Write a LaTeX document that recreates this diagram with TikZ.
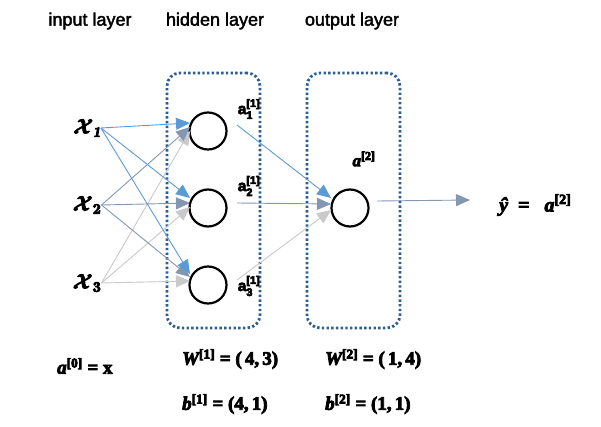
\documentclass[tikz,border=0pt]{standalone}
\usepackage{amsmath,bm}
\usepackage{fontspec}
\newfontfamily\sansf{Liberation Sans}
\newfontfamily\fser{Liberation Serif}
\usetikzlibrary{arrows.meta}
\definecolor{cblue}{HTML}{5B9BD5}
\definecolor{cgb}{HTML}{8497B0}
\definecolor{cgray}{HTML}{C9C9C9}
\definecolor{cbox}{HTML}{2E5D8F}
\newcommand{\heavy}[2]{\special{pdf:literal direct 2 Tr #1 w}#2\special{pdf:literal direct 0 Tr}}
\newcommand{\sq}[1]{\textsuperscript{#1}}
\begin{document}
\begin{tikzpicture}[x=1pt,y=-1pt,
 neuron/.style={circle,draw=black,line width=2.2pt,minimum size=37pt,inner sep=0pt},
 layerbox/.style={draw=cbox,line width=2.8pt,dash pattern=on 2.4pt off 2.3pt,rounded corners=13pt,inner sep=0pt},
 conn/.style={line width=0.9pt,-{Triangle[length=14pt,width=12pt]}},
 title/.style={font=\sansf\fontsize{18}{21}\selectfont},
 formula/.style={font=\fser\bfseries\fontsize{19}{22}\selectfont,inner sep=0pt},
 xlab/.style={font=\fontsize{20}{22}\selectfont,inner sep=0pt},
 alab/.style={font=\sansf\bfseries\fontsize{15.5}{18}\selectfont,inner sep=0pt},
]
\useasboundingbox (0,0) rectangle (601,427);
% titles
\node[title] (tin) at (90,21) {\heavy{0.4}{input layer}};
\node[title] (thid) at (215,21) {\heavy{0.4}{hidden layer}};
\node[title] (tout) at (352,21) {\heavy{0.4}{output layer}};
% layer boxes
\node[layerbox,minimum width=93pt,minimum height=255pt] (hbox) at (213.5,200.5) {};
\node[layerbox,minimum width=93pt,minimum height=255pt] (obox) at (353.5,200.5) {};
% neurons
\node[neuron] (h1) at (208,131) {};
\node[neuron] (h2) at (208,208) {};
\node[neuron] (h3) at (208,285) {};
\node[neuron] (o) at (350,208) {};
% inputs
\node[xlab] (x1) at (87,128) {\heavy{0.9}{$\bm{\mathcal{X}}_{\bm{\mathit 1}}$}};
\node[xlab] (x2) at (87,205) {\heavy{0.9}{$\bm{\mathcal{X}}_{\bm 2}$}};
\node[xlab] (x3) at (87,283) {\heavy{0.9}{$\bm{\mathcal{X}}_{\bm 3}$}};
% arrow end points
\coordinate (e11) at (190,123); \coordinate (e21) at (190,127); \coordinate (e31) at (190,131);
\coordinate (e12) at (190,198); \coordinate (e22) at (190,203); \coordinate (e32) at (190,207);
\coordinate (e13) at (190,274); \coordinate (e23) at (190,277); \coordinate (e33) at (190,281);
% input connections
\draw[conn,cgray] (x3.east) -- (e31);
\draw[conn,cgray] (x3.east) -- (e32);
\draw[conn,cgray] (x3.east) -- (e33);
\draw[conn,cgb] (x2.east) -- (e21);
\draw[conn,cgb] (x2.east) -- (e22);
\draw[conn,cgb] (x2.east) -- (e23);
\draw[conn,cblue] (x1.east) -- (e11);
\draw[conn,cblue] (x1.east) -- (e12);
\draw[conn,cblue] (x1.east) -- (e13);
% hidden labels
\node[alab] (a1) at (249,109) {\heavy{0.6}{a$^{\text{\sansf\bfseries [1]}}_{\text{\sansf\bfseries 1}}$}};
\node[alab] (a2) at (249,186) {\heavy{0.6}{a$^{\text{\sansf\bfseries [1]}}_{\text{\sansf\bfseries 2}}$}};
\node[alab] (a3) at (249,286) {\heavy{0.6}{a$^{\text{\sansf\bfseries [1]}}_{\text{\sansf\bfseries 3}}$}};
% hidden to output
\coordinate (s1) at (237,125); \coordinate (s2) at (237,203); \coordinate (s3) at (237,280);
\coordinate (f1) at (331,198); \coordinate (f2) at (331,204); \coordinate (f3) at (331,210);
\draw[conn,cgray] (s3) -- (f3);
\draw[conn,cgb] (s2) -- (f2);
\draw[conn,cblue] (s1) -- (f1);
% output label and arrow
\node[formula,font=\fser\bfseries\fontsize{17}{19}\selectfont] (a2o) at (364,159) {\heavy{0.8}{\itshape a\upshape\sq{[2]}}};
\coordinate (os) at (377,201); \coordinate (oe) at (470,200);
\draw[conn,cgb] (os) -- (oe);
\node[formula,font=\fser\bfseries\fontsize{20}{22}\selectfont,anchor=west] (yhat) at (499,205) {\heavy{0.8}{\itshape ŷ\upshape\ \ =\ \ \ \itshape a\upshape\sq{[2]}}};
% formulas
\node[formula,anchor=west] (f0) at (57,366) {\heavy{0.8}{\itshape a\upshape\sq{[0]}\ =\ x}};
\node[formula,anchor=west] (w1) at (182,359) {\heavy{0.8}{\itshape W\upshape\sq{[1]}\ =\ (\,4,\,3)}};
\node[formula,anchor=west] (w2) at (325,359) {\heavy{0.8}{\itshape W\upshape\sq{[2]}\ =\ (\,1,\,4)}};
\node[formula,anchor=west] (b1) at (182,404) {\heavy{0.8}{\itshape b\upshape\sq{[1]}\ =\ (4,\,1)}};
\node[formula,anchor=west] (b2) at (325,404) {\heavy{0.8}{\itshape b\upshape\sq{[2]}\ =\ (1,\,1)}};
\end{tikzpicture}
\end{document}
